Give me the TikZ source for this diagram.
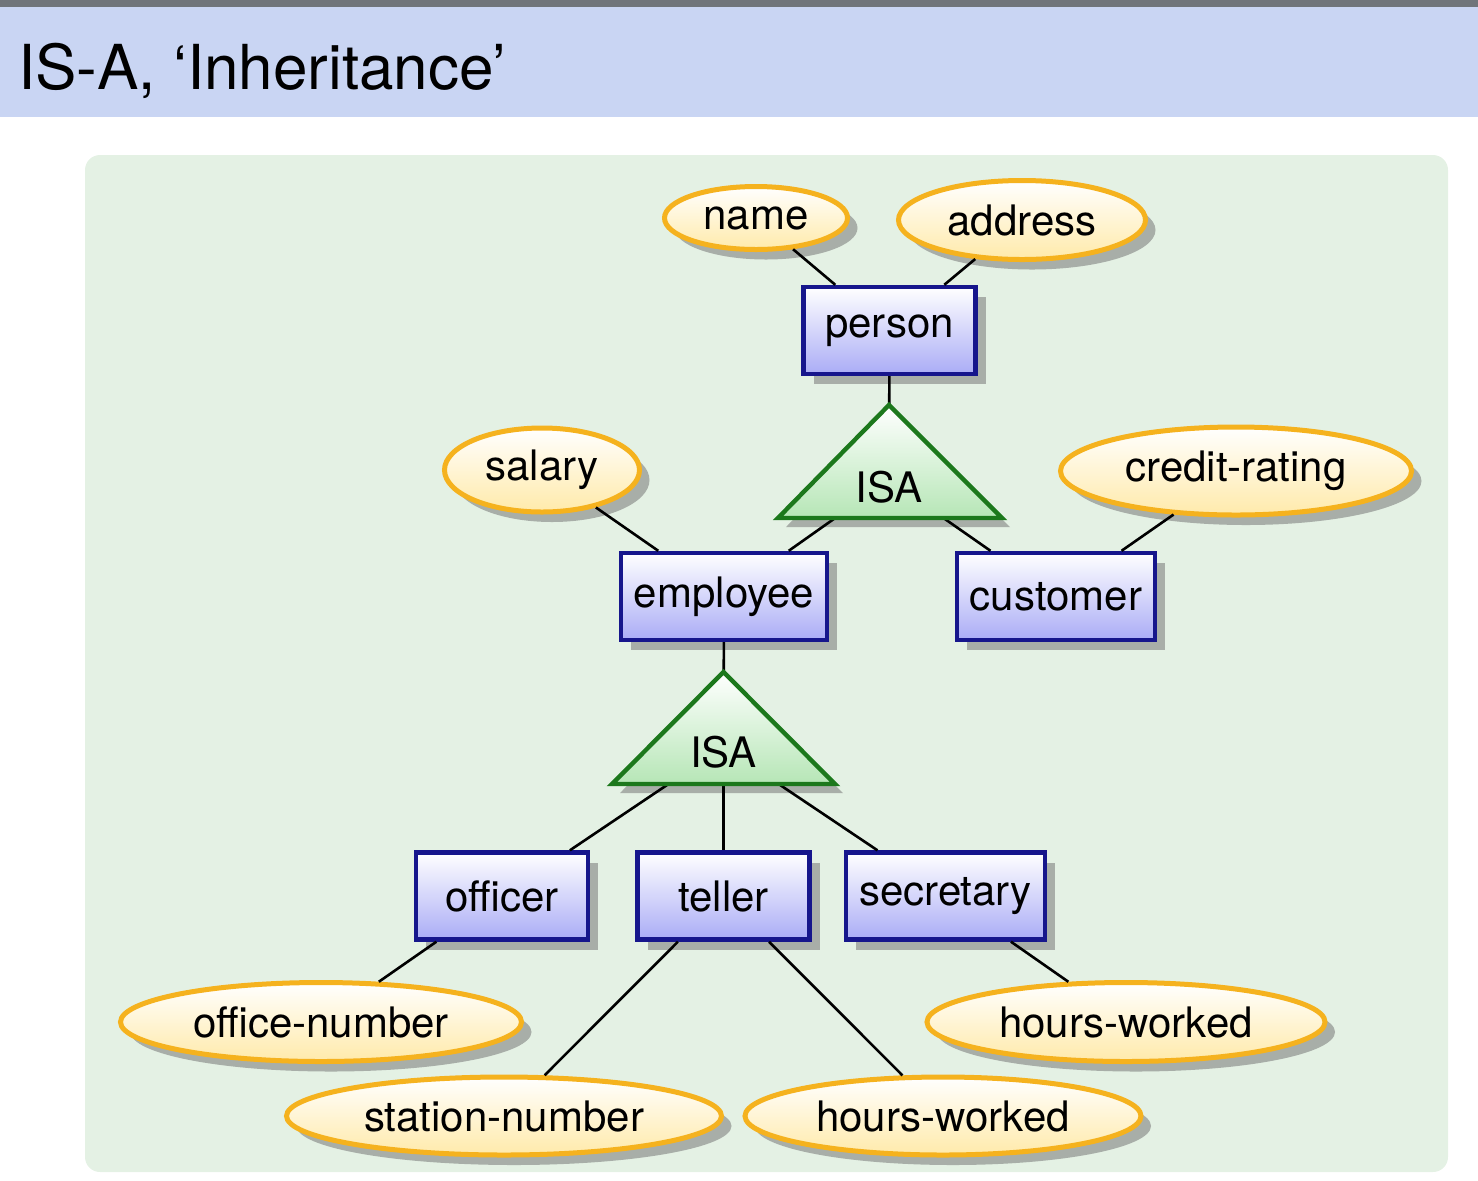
\documentclass[tikz,border=0pt]{standalone}
\usepackage{fontspec}
\setmainfont{TeX Gyre Heros}
\usetikzlibrary{shapes.geometric}
\usetikzlibrary{shadows}

\definecolor{titleblue}{RGB}{201,213,243}
\definecolor{topgray}{RGB}{112,117,122}
\definecolor{panelgreen}{RGB}{228,241,228}
\definecolor{entborder}{RGB}{22,22,140}
\definecolor{entfill}{RGB}{170,172,246}
\definecolor{attrborder}{RGB}{245,178,30}
\definecolor{attrfill}{RGB}{255,234,170}
\definecolor{isaborder}{RGB}{28,120,28}
\definecolor{isafill}{RGB}{182,230,182}
\definecolor{shadowgray}{RGB}{168,174,168}

\tikzset{
  entity/.style={draw=entborder, line width=2.2pt, top color=white, bottom color=entfill,
    minimum width=86pt, minimum height=43.5pt, inner xsep=6.5pt,
    font=\fontsize{21}{25}\selectfont,
    drop shadow={shadow xshift=5pt, shadow yshift=-5pt, fill=shadowgray, opacity=1}},
  attr/.style={ellipse, draw=attrborder, line width=2.5pt, top color=white, bottom color=attrfill,
    inner sep=0pt, font=\fontsize{21}{25}\selectfont,
    drop shadow={shadow xshift=5pt, shadow yshift=-5pt, fill=shadowgray, opacity=1}},
  isa/.style={draw=isaborder, line width=2.2pt, line join=miter, top color=white, bottom color=isafill},
  conn/.style={line width=1.3pt}
}

\begin{document}
\begin{tikzpicture}[x=0.5pt,y=-0.5pt]
\useasboundingbox (0,0) rectangle (1478,1180);
\fill[topgray] (0,0) rectangle (1478,7); % top edge
\fill[titleblue] (0,7) rectangle (1478,117); % title bar
\node[anchor=base west, inner sep=0pt, font=\fontsize{31}{36}\selectfont] (title) at (18,89) {IS-A, ‘Inheritance’};
\fill[panelgreen, rounded corners=7.5pt] (85,155) rectangle (1448,1172); % panel

% triangle shadows
\fill[shadowgray] (897,414) -- (1010,527) -- (786,527) -- cycle;
\fill[shadowgray] (731,681) -- (843,793) -- (620,793) -- cycle;

% entities
\node[entity] (person) at (889.5,330.5) {person};
\node[entity] (employee) at (724,596.5) {employee};
\node[entity] (customer) at (1056,596.5) {customer};
\node[entity] (officer) at (502,896) {officer};
\node[entity] (teller) at (723.5,896) {teller};
\node[entity] (secretary) at (945.5,896) {secretary};

% attributes
\node[attr, minimum width=91.5pt, minimum height=31.5pt] (name) at (756,218) {name};
\node[attr, minimum width=123.5pt, minimum height=39.5pt] (address) at (1022,220) {address};
\node[attr, minimum width=97.5pt, minimum height=42pt] (salary) at (542,470) {salary};
\node[attr, minimum width=175.5pt, minimum height=44pt] (credit) at (1236,471) {credit-rating};
\node[attr, minimum width=200.5pt, minimum height=39.5pt] (officenum) at (321,1022) {office-number};
\node[attr, minimum width=217.5pt, minimum height=39pt] (stationnum) at (504,1116) {station-number};
\node[attr, minimum width=198pt, minimum height=39pt] (hoursT) at (943,1116) {hours-worked};
\node[attr, minimum width=199pt, minimum height=39.5pt] (hoursS) at (1126,1022) {hours-worked};

\coordinate (isaTop) at (889,480);
\coordinate (isaBot) at (723.5,747);

% connectors
\draw[conn] (name) -- (person);
\draw[conn] (address) -- (person);
\draw[conn] (person) -- (isaTop);
\draw[conn] (isaTop) -- (employee);
\draw[conn] (isaTop) -- (customer);
\draw[conn] (salary) -- (employee);
\draw[conn] (credit) -- (customer);
\draw[conn] (employee) -- (isaBot);
\draw[conn] (isaBot) -- (officer);
\draw[conn] (isaBot) -- (teller);
\draw[conn] (isaBot) -- (secretary);
\draw[conn] (officer) -- (officenum);
\draw[conn] (teller) -- (stationnum);
\draw[conn] (teller) -- (hoursT);
\draw[conn] (secretary) -- (hoursS);

% ISA triangles
\draw[isa] (889,405) -- (1002,518) -- (778,518) -- cycle;
\node[font=\fontsize{21}{25}\selectfont] (isaTopText) at (889,487) {ISA};
\draw[isa] (723.5,672) -- (835,784) -- (612,784) -- cycle;
\node[font=\fontsize{21}{25}\selectfont] (isaBotText) at (723.5,752) {ISA};
\end{tikzpicture}
\end{document}
